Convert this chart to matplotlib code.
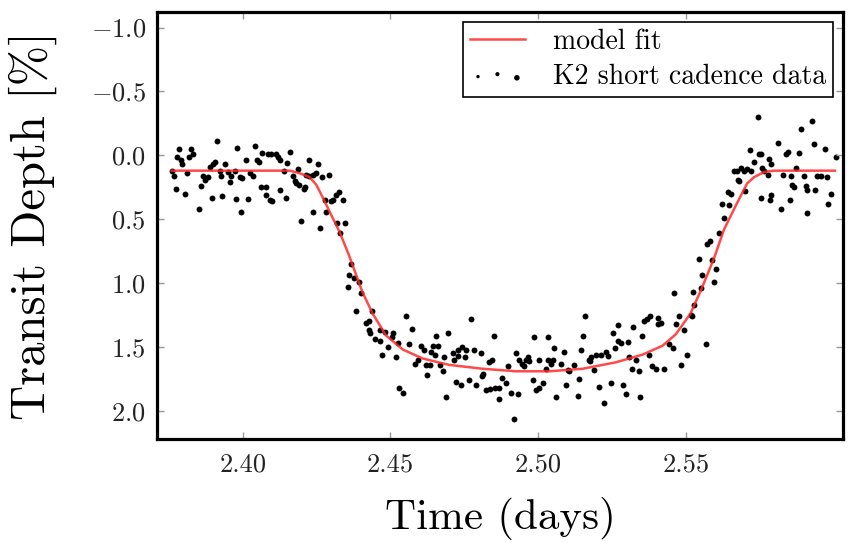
import matplotlib
matplotlib.use("Agg")
import matplotlib.pyplot as plt
from matplotlib.collections import PathCollection
from matplotlib.legend_handler import HandlerPathCollection

"""
K2 short cadence transit light curve with the model fit.
"""

plt.rcParams['font.family'] = ['cmr10', 'DejaVu Serif']
plt.rcParams['mathtext.fontset'] = 'cm'
plt.rcParams['axes.formatter.use_mathtext'] = True

# K2 short cadence points (time in days, transit depth in %)
data_time = [
    2.3762, 2.3767, 2.3776, 2.3778, 2.3784, 2.3793, 2.3796, 2.3804, 2.3812, 2.3819,
    2.3827, 2.3832, 2.3852, 2.3860, 2.3866, 2.3874, 2.3883, 2.3889, 2.3898, 2.3900,
    2.3905, 2.3913, 2.3922, 2.3928, 2.3931, 2.3939, 2.3950, 2.3956, 2.3962, 2.3973,
    2.3976, 2.3981, 2.3990, 2.3996, 2.3999, 2.4012, 2.4018, 2.4024, 2.4035, 2.4041,
    2.4048, 2.4055, 2.4063, 2.4066, 2.4078, 2.4080, 2.4085, 2.4091, 2.4097, 2.4099,
    2.4114, 2.4119, 2.4125, 2.4127, 2.4140, 2.4145, 2.4150, 2.4159, 2.4170, 2.4176,
    2.4181, 2.4187, 2.4190, 2.4198, 2.4206, 2.4212, 2.4215, 2.4223, 2.4226, 2.4238,
    2.4238, 2.4247, 2.4254, 2.4260, 2.4269, 2.4277, 2.4283, 2.4292, 2.4300, 2.4305,
    2.4317, 2.4319, 2.4325, 2.4330, 2.4339, 2.4345, 2.4356, 2.4361, 2.4367, 2.4378,
    2.4382, 2.4395, 2.4401, 2.4416, 2.4427, 2.4429, 2.4431, 2.4438, 2.4446, 2.4463,
    2.4465, 2.4472, 2.4480, 2.4491, 2.4506, 2.4508, 2.4519, 2.4525, 2.4530, 2.4544,
    2.4553, 2.4564, 2.4573, 2.4584, 2.4592, 2.4604, 2.4615, 2.4621, 2.4622, 2.4632,
    2.4637, 2.4645, 2.4649, 2.4654, 2.4660, 2.4666, 2.4677, 2.4682, 2.4688, 2.4694,
    2.4711, 2.4716, 2.4722, 2.4728, 2.4730, 2.4739, 2.4742, 2.4753, 2.4756, 2.4767,
    2.4773, 2.4784, 2.4789, 2.4806, 2.4808, 2.4812, 2.4823, 2.4834, 2.4836, 2.4844,
    2.4851, 2.4853, 2.4866, 2.4868, 2.4877, 2.4890, 2.4896, 2.4908, 2.4919, 2.4925,
    2.4930, 2.4936, 2.4945, 2.4953, 2.4958, 2.4964, 2.4970, 2.4981, 2.4986, 2.4992,
    2.5001, 2.5003, 2.5015, 2.5026, 2.5032, 2.5034, 2.5043, 2.5048, 2.5054, 2.5059,
    2.5076, 2.5088, 2.5093, 2.5099, 2.5105, 2.5122, 2.5133, 2.5139, 2.5144, 2.5150,
    2.5159, 2.5170, 2.5174, 2.5178, 2.5189, 2.5194, 2.5204, 2.5211, 2.5223, 2.5228,
    2.5237, 2.5245, 2.5251, 2.5260, 2.5268, 2.5271, 2.5279, 2.5285, 2.5296, 2.5302,
    2.5307, 2.5316, 2.5321, 2.5330, 2.5339, 2.5344, 2.5350, 2.5358, 2.5366, 2.5373,
    2.5377, 2.5386, 2.5397, 2.5403, 2.5406, 2.5414, 2.5426, 2.5443, 2.5454, 2.5459,
    2.5465, 2.5474, 2.5482, 2.5493, 2.5504, 2.5516, 2.5521, 2.5524, 2.5527, 2.5544,
    2.5549, 2.5554, 2.5566, 2.5572, 2.5580, 2.5587, 2.5595, 2.5600, 2.5611, 2.5621,
    2.5628, 2.5643, 2.5645, 2.5651, 2.5662, 2.5673, 2.5676, 2.5679, 2.5684, 2.5696,
    2.5698, 2.5707, 2.5715, 2.5718, 2.5730, 2.5744, 2.5746, 2.5752, 2.5753, 2.5758,
    2.5764, 2.5775, 2.5780, 2.5782, 2.5786, 2.5787, 2.5809, 2.5822, 2.5826, 2.5839,
    2.5845, 2.5850, 2.5854, 2.5859, 2.5865, 2.5871, 2.5880, 2.5887, 2.5899, 2.5904,
    2.5909, 2.5910, 2.5924, 2.5932, 2.5936, 2.5944, 2.5955, 2.5971, 2.5977, 2.5979,
    2.5989, 2.6007,
]
data_depth = [
    0.12, 0.16, 0.26, 0.01, -0.05, 0.04, 0.07, 0.30, 0.14, 0.01,
    -0.05, -0.01, 0.42, 0.24, 0.16, 0.19, 0.17, 0.09, 0.33, 0.07,
    0.05, -0.11, 0.12, 0.16, 0.32, 0.07, 0.13, 0.21, 0.16, 0.12,
    0.34, -0.06, 0.17, 0.44, 0.18, 0.04, 0.34, 0.14, 0.16, -0.07,
    0.04, 0.05, 0.25, -0.02, 0.25, 0.31, -0.01, 0.35, -0.01, 0.36,
    -0.01, 0.01, 0.04, 0.27, 0.12, 0.33, 0.06, -0.03, 0.16, 0.20,
    0.22, 0.11, 0.23, 0.51, 0.26, 0.25, 0.15, 0.04, 0.16, 0.15,
    0.44, 0.14, 0.07, 0.57, 0.17, 0.35, 0.44, 0.15, 0.36, 0.35,
    0.31, 0.53, 0.29, 0.61, 0.35, 0.53, 1.03, 0.94, 0.85, 0.96,
    1.22, 0.99, 1.08, 1.31, 1.30, 1.37, 1.39, 1.22, 1.44, 1.45,
    1.37, 1.56, 1.38, 1.50, 1.42, 1.39, 1.58, 1.47, 1.82, 1.86,
    1.26, 1.48, 1.36, 1.63, 1.60, 1.49, 1.52, 1.64, 1.72, 1.64,
    1.54, 1.49, 1.56, 1.41, 1.49, 1.64, 1.69, 1.58, 1.89, 1.39,
    1.55, 1.60, 1.77, 1.52, 1.57, 1.80, 1.50, 1.58, 1.52, 1.76,
    1.28, 1.52, 1.80, 1.55, 1.73, 1.71, 1.84, 1.62, 1.83, 1.60,
    1.41, 1.82, 1.91, 1.82, 1.74, 1.78, 1.65, 1.86, 2.06, 1.55,
    1.87, 1.60, 1.63, 1.65, 1.60, 1.58, 1.61, 1.76, 1.42, 1.84,
    1.60, 1.82, 1.78, 1.67, 1.42, 1.60, 1.63, 1.60, 1.51, 1.89,
    1.63, 1.54, 1.80, 1.68, 1.69, 1.64, 1.88, 1.75, 1.52, 1.41,
    1.26, 1.60, 1.61, 1.58, 1.68, 1.56, 1.81, 1.56, 1.94, 1.54,
    1.57, 1.78, 1.39, 1.51, 1.45, 1.33, 1.47, 1.80, 1.87, 1.46,
    1.58, 1.67, 1.34, 1.60, 1.69, 1.89, 1.41, 1.30, 1.28, 1.56,
    1.26, 1.65, 1.67, 1.32, 1.27, 1.31, 1.67, 1.48, 1.51, 1.08,
    1.32, 1.26, 1.64, 1.37, 1.56, 1.25, 1.26, 1.07, 1.17, 0.81,
    1.04, 0.94, 1.48, 0.69, 0.67, 0.82, 0.99, 0.89, 0.61, 0.38,
    0.49, 0.29, 0.39, 0.30, 0.12, 0.12, 0.19, 0.20, 0.10, 0.12,
    0.28, 0.11, -0.04, 0.12, 0.05, -0.30, -0.01, -0.01, 0.33, 0.10,
    0.12, 0.15, 0.03, 0.35, 0.07, 0.31, -0.10, 0.42, 0.15, -0.01,
    -0.03, 0.35, 0.16, 0.23, 0.25, 0.10, -0.02, -0.21, 0.16, 0.24,
    0.27, 0.45, -0.27, -0.09, 0.27, 0.16, 0.16, -0.05, 0.17, 0.38,
    0.30, 0.01,
]

# model fit
model_time = [
    2.3760, 2.4159, 2.4193, 2.4226, 2.4249, 2.4271, 2.4294, 2.4328, 2.4361, 2.4405,
    2.4440, 2.4485, 2.4542, 2.4609, 2.4699, 2.4811, 2.4925, 2.5037, 2.5150, 2.5262,
    2.5352, 2.5420, 2.5465, 2.5514, 2.5551, 2.5595, 2.5628, 2.5662, 2.5686, 2.5706,
    2.5730, 2.5764, 2.5797, 2.6003,
]
model_depth = [
    0.12, 0.12, 0.14, 0.17, 0.23, 0.33, 0.44, 0.60, 0.79, 1.07,
    1.24, 1.41, 1.52, 1.59, 1.64, 1.67, 1.69, 1.69, 1.67, 1.62,
    1.56, 1.49, 1.40, 1.24, 1.05, 0.80, 0.58, 0.42, 0.31, 0.22,
    0.17, 0.13, 0.12, 0.12,
]

x_ticks = [2.40, 2.45, 2.50, 2.55]
x_tick_labels = ["2.40", "2.45", "2.50", "2.55"]
y_ticks = [-1.0, -0.5, 0.0, 0.5, 1.0, 1.5, 2.0]


def plot_transit(out_file):

    """
    Draw the light curve and the model, then save it.
    :param out_file: The path of the saved picture.
    :return: None
    """

    fig = plt.figure(figsize=(8.48, 5.43), dpi=100)
    ax = fig.add_axes([0.185, 0.1915, 0.809, 0.786])
    ax.plot(model_time, model_depth, color='#ff2a2a', alpha=0.85, lw=1.8, label="model fit")
    ax.scatter(data_time, data_depth, s=18, color='black', linewidths=0,
               label="K2 short cadence data")

    ax.set_xlim(2.371, 2.603)
    ax.set_ylim(2.22, -1.12)
    ax.set_xticks(x_ticks)
    ax.set_xticklabels(x_tick_labels)
    ax.set_yticks(y_ticks)
    ax.tick_params(direction='in', top=True, right=True, length=5, width=1,
                   color='#999999', labelsize=19, labelcolor='#222222')
    ax.tick_params(axis='x', pad=10)
    ax.tick_params(axis='y', pad=8)
    for spine in ax.spines.values():
        spine.set_linewidth(2.3)

    ax.set_xlabel("Time (days)", fontsize=31)
    ax.set_ylabel("Transit Depth [%]", fontsize=35)
    ax.xaxis.set_label_coords(0.5, -0.135)
    ax.yaxis.set_label_coords(-0.145, 0.5)

    leg = ax.legend(loc='upper right', bbox_to_anchor=(1.0, 1.0), fontsize=20,
                    scatterpoints=3, fancybox=False, framealpha=1,
                    borderaxespad=0.35, borderpad=0.25, labelspacing=0.3,
                    handlelength=2.0, handletextpad=1.0,
                    handler_map={PathCollection: HandlerPathCollection(sizes=[6, 9, 16])})
    leg.get_frame().set_edgecolor('black')
    leg.get_frame().set_linewidth(1.2)

    fig.savefig(out_file, dpi=100)


if __name__ == "__main__":
    plot_transit("out.png")
